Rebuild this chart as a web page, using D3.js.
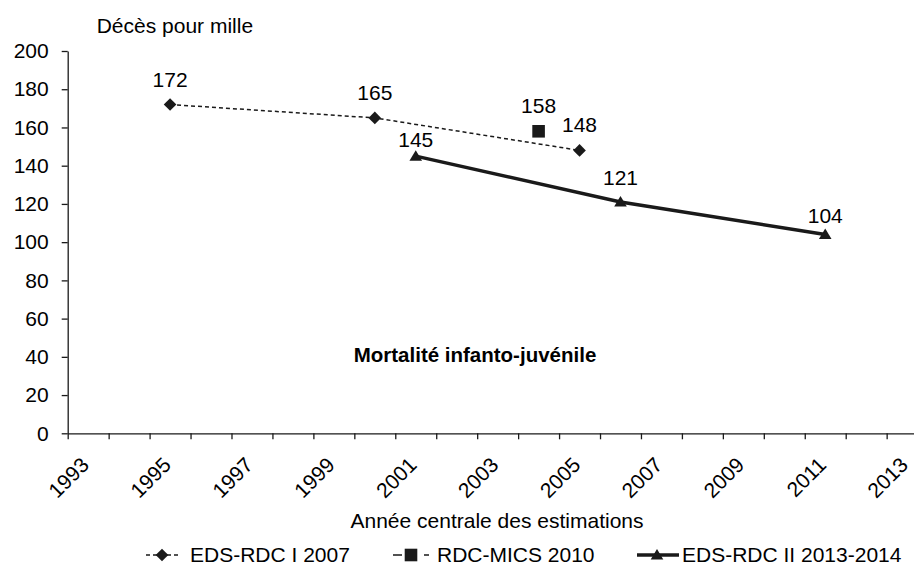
<!DOCTYPE html>
<html>
<head>
<meta charset="utf-8">
<script src="https://d3js.org/d3.v7.min.js"></script>
<style>
  body { margin: 0; background: #fff; }
  svg { display: block; font-family: "Liberation Sans", Arial, sans-serif; }
</style>
</head>
<body>
<svg id="chart" width="914" height="566"></svg>
<script>
// EDS-RDC I 2007
var edsYears = [1995, 2000, 2005],
    edsValues = [172, 165, 148];
// RDC-MICS 2010
var micsYears = [2004],
    micsValues = [158];
// EDS-RDC II 2013-2014
var eds2Years = [2001, 2006, 2011],
    eds2Values = [145, 121, 104];

var yTicks = [0, 20, 40, 60, 80, 100, 120, 140, 160, 180, 200],
    xLabels = [1993, 1995, 1997, 1999, 2001, 2003, 2005, 2007, 2009, 2011, 2013];

var svg = d3.select("#chart"),
    ink = "#1a1a1a";

var x = d3.scaleLinear().domain([1992.5, 2013.5]).range([67.7, 927.6]),
    y = d3.scaleLinear().domain([0, 200]).range([433.3, 51]);

var zip = function(xs, vs) {
    return xs.map(function(d, i) { return {year: d, value: vs[i]}; });
};

// y axis
var yAxis = svg.append("g")
    .attr("transform", "translate(67.7,0)")
    .call(d3.axisLeft(y).tickValues(yTicks).tickSize(6).tickSizeOuter(0).tickPadding(13));
yAxis.selectAll("text").attr("font-size", 21).attr("fill", "#000").attr("font-family", null);
yAxis.selectAll("line, path").attr("stroke", ink).attr("stroke-width", 1.3);

// x axis, ticks between the years
var halfYears = d3.range(1992.5, 2014, 1);
var xAxis = svg.append("g")
    .attr("transform", "translate(0,433.3)")
    .call(d3.axisBottom(x).tickValues(halfYears).tickSize(6).tickSizeOuter(0).tickFormat(""));
xAxis.selectAll("line, path").attr("stroke", ink).attr("stroke-width", 1.3);

svg.append("g").selectAll("text")
    .data(xLabels)
    .enter().append("text")
        .attr("transform", function(d) { return "translate(" + (x(d) - 3) + ",461) rotate(-45)"; })
        .attr("text-anchor", "end")
        .attr("dy", "0.35em")
        .attr("font-size", 21)
        .text(function(d) { return d; });

svg.append("text")
    .attr("x", 96.7).attr("y", 33)
    .attr("font-size", 21)
    .text("Décès pour mille");

svg.append("text")
    .attr("x", 497).attr("y", 528)
    .attr("text-anchor", "middle")
    .attr("font-size", 21)
    .text("Année centrale des estimations");

svg.append("text")
    .attr("x", 475).attr("y", 362)
    .attr("text-anchor", "middle")
    .attr("font-size", 20.5)
    .attr("font-weight", "bold")
    .text("Mortalité infanto-juvénile");

// marker shapes
var diamond = function(cx, cy) {
    return "M" + cx + "," + (cy - 6.3) + "L" + (cx + 6.3) + "," + cy + "L" + cx + "," + (cy + 6.3) + "L" + (cx - 6.3) + "," + cy + "Z";
};
var square = function(cx, cy) {
    return "M" + (cx - 6.3) + "," + (cy - 6.3) + "h12.6v12.6h-12.6Z";
};
var triangle = function(cx, cy) {
    return "M" + cx + "," + (cy - 6) + "L" + (cx + 6.3) + "," + (cy + 4.5) + "L" + (cx - 6.3) + "," + (cy + 4.5) + "Z";
};

var line = d3.line()
    .x(function(d) { return x(d.year); })
    .y(function(d) { return y(d.value); });

var series = [
    {data: zip(edsYears, edsValues), dash: "4,3", width: 1.5, shape: diamond, labelDy: [-18, -18, -18]},
    {data: zip(micsYears, micsValues), dash: null, width: 0, shape: square, labelDy: [-18]},
    {data: zip(eds2Years, eds2Values), dash: null, width: 3.5, shape: triangle, labelDy: [-9, -17, -12]}
];

series.forEach(function(s) {
    var g = svg.append("g");
    if (s.width) {
        g.append("path")
            .datum(s.data)
            .attr("d", line)
            .attr("fill", "none")
            .attr("stroke", ink)
            .attr("stroke-width", s.width)
            .attr("stroke-dasharray", s.dash);
    }
    g.selectAll(".marker")
        .data(s.data)
        .enter().append("path")
            .attr("class", "marker")
            .attr("d", function(d) { return s.shape(x(d.year), y(d.value)); })
            .attr("fill", ink);
    g.selectAll(".lbl")
        .data(s.data)
        .enter().append("text")
            .attr("class", "lbl")
            .attr("x", function(d) { return x(d.year); })
            .attr("y", function(d, i) { return y(d.value) + s.labelDy[i]; })
            .attr("text-anchor", "middle")
            .attr("font-size", 21)
            .text(function(d) { return d.value; });
});

// legend
var legendY = 555,
    legendBase = 562;
var lg = svg.append("g");

lg.append("line").attr("x1", 146).attr("x2", 178).attr("y1", legendY).attr("y2", legendY)
    .attr("stroke", ink).attr("stroke-width", 1.5).attr("stroke-dasharray", "4,3");
lg.append("path").attr("d", diamond(162, legendY)).attr("fill", ink);
lg.append("text").attr("x", 190).attr("y", legendBase).attr("font-size", 21).text("EDS-RDC I 2007");

lg.append("line").attr("x1", 393).attr("x2", 429).attr("y1", legendY).attr("y2", legendY)
    .attr("stroke", ink).attr("stroke-width", 1.5).attr("stroke-dasharray", "9,22,5,50");
lg.append("path").attr("d", square(411, legendY)).attr("fill", ink);
lg.append("text").attr("x", 437).attr("y", legendBase).attr("font-size", 21).text("RDC-MICS 2010");

lg.append("line").attr("x1", 637).attr("x2", 679).attr("y1", legendY).attr("y2", legendY)
    .attr("stroke", ink).attr("stroke-width", 3.5);
lg.append("path").attr("d", triangle(657, legendY)).attr("fill", ink);
lg.append("text").attr("x", 682).attr("y", legendBase).attr("font-size", 21).text("EDS-RDC II 2013-2014");
</script>
</body>
</html>
